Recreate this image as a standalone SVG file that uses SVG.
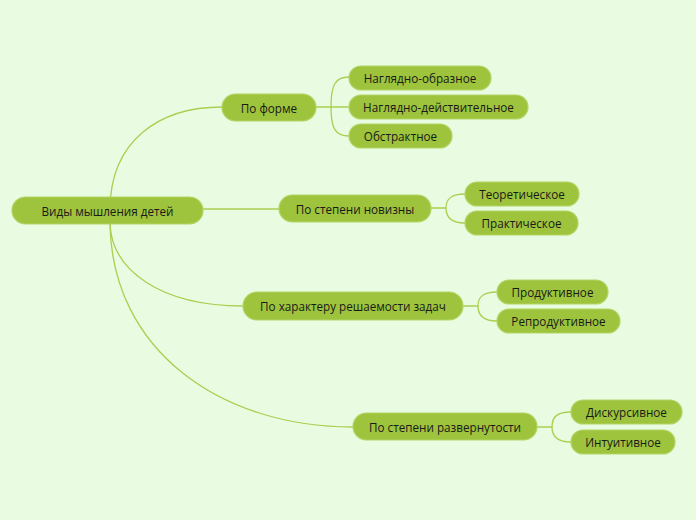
<svg xmlns="http://www.w3.org/2000/svg" width="696" height="520" viewBox="0 0 696 520">
<style>
.n{fill:#9DC43C;stroke:#B2D465;stroke-width:1.2}
.t{font-family:"Open Sans","Noto Sans",sans-serif;font-size:11.7px;fill:#1a1a1a;text-anchor:middle;dominant-baseline:central}
.c{fill:none;stroke:#A9CF50;stroke-width:1.3}
</style>
<rect width="696" height="520" fill="#E9FCE1"/>
<g id="connectors">
<path class="c" d="M110,210 C110,140 160,107 222,107"/>
<path class="c" d="M203,209 L279,209"/>
<path class="c" d="M110,224 C112,270 160,306 243,306"/>
<path class="c" d="M110,224 C112,350 220,427 353,427"/>
<path class="c" d="M316,107 L349,107 M331,107 C331,85 335,77 349,77 M331,107 C331,128 335,136 349,136"/>
<path class="c" d="M431,208 L446,208 M446,208 C446,198 452,194 465,194 M446,208 C446,218 452,223 465,223"/>
<path class="c" d="M463,306 L478,306 M478,306 C478,296 484,292 497,292 M478,306 C478,316 484,321 497,321"/>
<path class="c" d="M537,427 L552,427 M552,427 C552,416 558,412 571,412 M552,427 C552,437 558,442 571,442"/>
</g>
<g id="root"><rect class="n" x="12" y="197" width="191" height="27" rx="13.5"/><text class="t" x="107.5" y="210.5">Виды мышления детей</text></g>
<g id="po-forme"><rect class="n" x="222" y="94" width="94" height="27" rx="13.5"/><text class="t" x="269" y="107.5">По форме</text></g>
<g id="nagl-obr"><rect class="n" x="349" y="66" width="142" height="24" rx="12"/><text class="t" x="420" y="78">Наглядно-образное</text></g>
<g id="nagl-deist"><rect class="n" x="349" y="95" width="179" height="24" rx="12"/><text class="t" x="438.5" y="107">Наглядно-действительное</text></g>
<g id="obstr"><rect class="n" x="349" y="124" width="103" height="24" rx="12"/><text class="t" x="400.5" y="136">Обстрактное</text></g>
<g id="novizna"><rect class="n" x="279" y="195" width="152" height="27" rx="13.5"/><text class="t" x="355" y="208.5">По степени новизны</text></g>
<g id="teor"><rect class="n" x="465" y="182" width="114" height="24" rx="12"/><text class="t" x="522" y="194">Теоретическое</text></g>
<g id="prakt"><rect class="n" x="465" y="211" width="113" height="24" rx="12"/><text class="t" x="521.5" y="223">Практическое</text></g>
<g id="harakter"><rect class="n" x="243" y="292" width="220" height="28" rx="14"/><text class="t" x="353" y="306">По характеру решаемости задач</text></g>
<g id="prod"><rect class="n" x="497" y="280" width="111" height="24" rx="12"/><text class="t" x="552.5" y="292">Продуктивное</text></g>
<g id="reprod"><rect class="n" x="497" y="309" width="123" height="24" rx="12"/><text class="t" x="558.5" y="321">Репродуктивное</text></g>
<g id="razv"><rect class="n" x="353" y="413" width="184" height="27" rx="13.5"/><text class="t" x="445" y="427">По степени развернутости</text></g>
<g id="disk"><rect class="n" x="571" y="400" width="111" height="24" rx="12"/><text class="t" x="626.5" y="412">Дискурсивное</text></g>
<g id="intuit"><rect class="n" x="571" y="430" width="104" height="24" rx="12"/><text class="t" x="623" y="442">Интуитивное</text></g>
</svg>
